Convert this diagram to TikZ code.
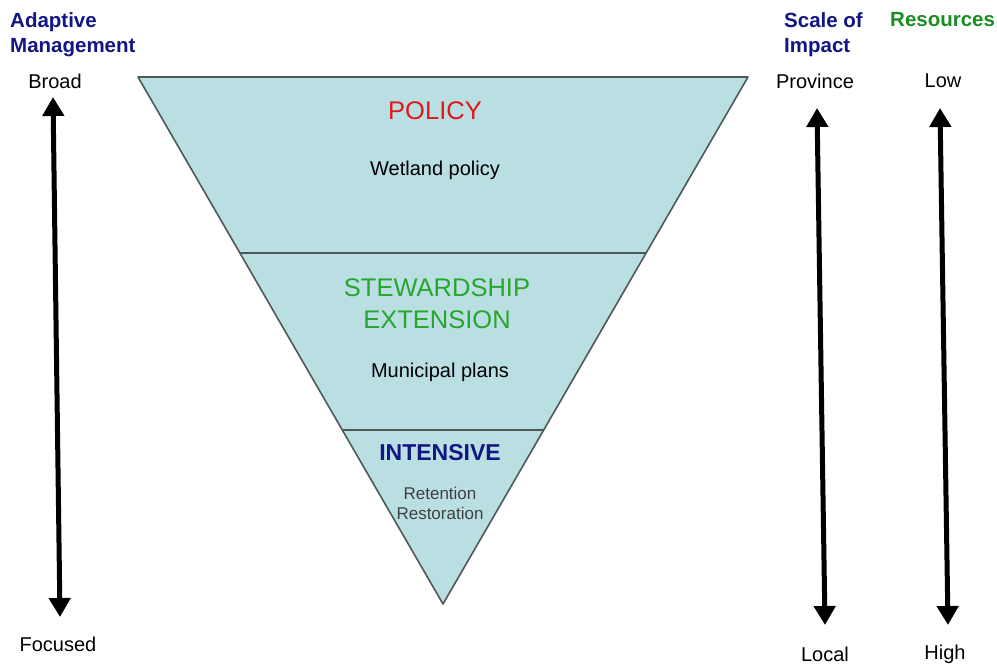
\documentclass[tikz,border=0pt]{standalone}
\usepackage{fontspec}
\setmainfont{Liberation Sans}
\usetikzlibrary{arrows.meta}

\definecolor{headblue}{RGB}{18,22,132}
\definecolor{headgreen}{RGB}{28,140,36}
\definecolor{stewgreen}{RGB}{40,165,45}
\definecolor{policyred}{RGB}{228,22,28}
\definecolor{bandfill}{RGB}{186,223,227}
\definecolor{bandedge}{RGB}{78,88,90}

\tikzset{
  head/.style={font=\fontsize{20.5}{25}\selectfont\bfseries, align=left,
    anchor=north west, inner sep=0pt},
  scale label/.style={font=\fontsize{20}{24}\selectfont, inner sep=0pt},
  band/.style={fill=bandfill, draw=bandedge, line width=1.6pt, line join=round},
  big arrow/.style={line width=5pt, {Triangle[length=19pt,width=21pt]}-{Triangle[length=19pt,width=21pt]}},
}

\begin{document}
\begin{tikzpicture}[x=1pt,y=-1pt]
    \useasboundingbox (0,0) rectangle (997,664);

    % inverted triangle in three bands
    \coordinate (tl) at (138,77);
    \coordinate (tr) at (748,77);
    \coordinate (ml) at (239.9,253);
    \coordinate (mr) at (646.1,253);
    \coordinate (ll) at (342.3,430);
    \coordinate (lr) at (543.7,430);
    \coordinate (apex) at (443,604);
    \draw[band] (tl) -- (tr) -- (mr) -- (ml) -- cycle;
    \draw[band] (ml) -- (mr) -- (lr) -- (ll) -- cycle;
    \draw[band] (ll) -- (lr) -- (apex) -- cycle;

    \node[font=\fontsize{25.5}{30}\selectfont, text=policyred] (policy) at (435,111) {POLICY};
    \node[font=\fontsize{20}{24}\selectfont] (wetland) at (435,170) {Wetland policy};
    \node[font=\fontsize{25.5}{32}\selectfont, text=stewgreen, align=center] (steward)
      at (437,304) {STEWARDSHIP\\EXTENSION};
    \node[font=\fontsize{20}{24}\selectfont] (municip) at (440,372) {Municipal plans};
    \node[font=\fontsize{23}{27}\selectfont\bfseries, text=headblue] (intense) at (440,453) {INTENSIVE};
    \node[font=\fontsize{17}{20}\selectfont, text=black!75, align=center] (retain)
      at (440,503) {Retention\\Restoration};

    % left scale
    \node[head, text=headblue] (adaptive) at (10,12) {Adaptive\\Management};
    \node[scale label] (broad)   at (55,81)  {Broad};
    \node[scale label] (focused) at (58,644) {Focused};
    \coordinate (am top) at (53,97);
    \coordinate (am bot) at (60,617);
    \draw[big arrow] (am bot) -- (am top);

    % right scales
    \node[head, text=headblue]  (impact)    at (784,12) {Scale of\\Impact};
    \node[head, text=headgreen] (resources) at (890,12) {Resources};
    \node[scale label] (province) at (815,81)  {Province};
    \node[scale label] (local)    at (825,654) {Local};
    \node[scale label] (low)      at (943,81)  {Low};
    \node[scale label] (high)     at (945,654) {High};
    \coordinate (si top) at (817,108);
    \coordinate (si bot) at (825,625);
    \coordinate (rs top) at (940,108);
    \coordinate (rs bot) at (948,625);
    \draw[big arrow] (si bot) -- (si top);
    \draw[big arrow] (rs bot) -- (rs top);
\end{tikzpicture}
\end{document}
